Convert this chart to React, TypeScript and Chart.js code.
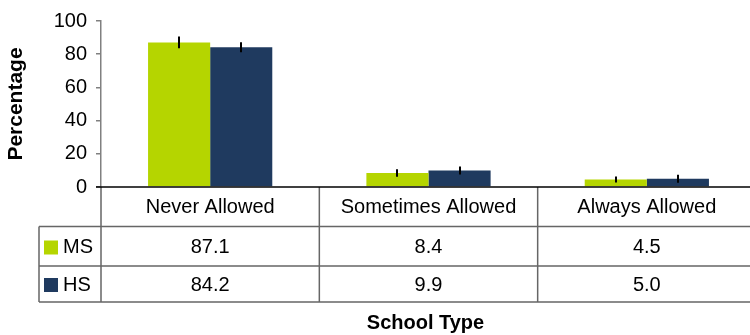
import React, { useEffect, useRef } from "react";
import { Chart, registerables } from "chart.js";

Chart.register(...registerables);

const categories = ["Never Allowed", "Sometimes Allowed", "Always Allowed"];
const seriesNames = ["MS", "HS"];
const msValues = [87.1, 8.4, 4.5];
const hsValues = [84.2, 9.9, 5.0];
const msErrors = [3.5, 2.3, 1.8];
const hsErrors = [3.0, 2.4, 2.4];
const tableMs = ["87.1", "8.4", "4.5"];
const tableHs = ["84.2", "9.9", "5.0"];
const colors = ["#b5d500", "#1f3a5f"];
const FONT = "'Liberation Sans', Arial, sans-serif";

export default function App() {
  const ref = useRef<HTMLCanvasElement | null>(null);

  useEffect(() => {
    const canvas = ref.current;
    if (!canvas) return;

    const errorPlugin = {
      id: "errorBars",
      afterDatasetsDraw(chart: any) {
        const ctx = chart.ctx;
        const y = chart.scales.y;
        const errs = [msErrors, hsErrors];
        chart.data.datasets.forEach((ds: any, di: number) => {
          const meta = chart.getDatasetMeta(di);
          meta.data.forEach((bar: any, i: number) => {
            const v = ds.data[i];
            const e = errs[di][i];
            ctx.save();
            ctx.strokeStyle = "#000";
            ctx.lineWidth = 2;
            ctx.beginPath();
            ctx.moveTo(Math.round(bar.x), y.getPixelForValue(v + e));
            ctx.lineTo(Math.round(bar.x), y.getPixelForValue(v - e));
            ctx.stroke();
            ctx.restore();
          });
        });
      },
    };

    const tablePlugin = {
      id: "dataTable",
      afterDraw(chart: any) {
        const ctx = chart.ctx;
        const area = chart.chartArea;
        const xs = chart.scales.x;
        const n = categories.length;
        const colW = (area.right - area.left) / n;
        const top = area.bottom;
        const r1 = top + 39.5;
        const r2 = top + 79;
        const r3 = top + 115;
        const tableLeft = 39;
        ctx.save();
        ctx.strokeStyle = "#666";
        ctx.lineWidth = 1.5;
        ctx.beginPath();
        [r1, r2, r3].forEach((yy) => {
          ctx.moveTo(tableLeft, yy);
          ctx.lineTo(area.right, yy);
        });
        ctx.moveTo(tableLeft, r1);
        ctx.lineTo(tableLeft, r3);
        for (let i = 0; i < n; i++) {
          const xx = area.left + colW * i;
          ctx.moveTo(xx, top);
          ctx.lineTo(xx, r3);
        }
        ctx.stroke();
        ctx.strokeStyle = "#000";
        ctx.lineWidth = 1.5;
        ctx.beginPath();
        ctx.moveTo(area.left - 5, top);
        ctx.lineTo(area.right, top);
        ctx.stroke();

        ctx.fillStyle = "#000";
        ctx.font = "20px " + FONT;
        ctx.textAlign = "center";
        ctx.textBaseline = "middle";
        for (let i = 0; i < n; i++) {
          const cx = xs.getPixelForValue(i);
          ctx.fillText(categories[i], cx, top + 20);
          ctx.fillText(tableMs[i], cx, r1 + 21);
          ctx.fillText(tableHs[i], cx, r2 + 19);
        }
        const rowsY = [r1 + 21, r2 + 19];
        seriesNames.forEach((s, si) => {
          ctx.fillStyle = colors[si];
          ctx.fillRect(44, rowsY[si] - 7, 14, 14);
          ctx.fillStyle = "#000";
          ctx.textAlign = "left";
          ctx.fillText(s, 63, rowsY[si]);
        });
        ctx.font = "bold 20px " + FONT;
        ctx.textAlign = "center";
        ctx.fillText("School Type", (area.left + 750) / 2, 323);
        ctx.restore();
      },
    };

    const chart = new Chart(canvas, {
      type: "bar",
      data: {
        labels: categories,
        datasets: [
          {
            label: seriesNames[0],
            data: msValues,
            backgroundColor: colors[0],
            categoryPercentage: 0.569,
            barPercentage: 1,
          },
          {
            label: seriesNames[1],
            data: hsValues,
            backgroundColor: colors[1],
            categoryPercentage: 0.569,
            barPercentage: 1,
          },
        ],
      },
      options: {
        responsive: false,
        animation: false,
        events: [],
        layout: {
          autoPadding: false,
          padding: { left: 0, right: 0, top: 20, bottom: 148 },
        },
        plugins: {
          legend: { display: false },
          tooltip: { enabled: false },
          title: { display: false },
        },
        scales: {
          x: {
            display: false,
          },
          y: {
            min: 0,
            max: 100,
            afterFit: (s: any) => {
              s.width = 101;
            },
            ticks: {
              stepSize: 20,
              color: "#000",
              padding: 9,
              font: { family: FONT, size: 20 },
            },
            grid: {
              drawOnChartArea: false,
              drawTicks: true,
              tickLength: 5,
              color: "#808080",
              lineWidth: 1.5,
            },
            border: { color: "#808080", width: 1.5 },
            title: {
              display: true,
              text: "Percentage",
              color: "#000",
              padding: { top: 4, bottom: 0 },
              font: { family: FONT, size: 21, weight: "bold" },
            },
          },
        },
      },
      plugins: [errorPlugin, tablePlugin],
    });

    return () => chart.destroy();
  }, []);

  return (
    <div style={{ position: "absolute", left: 0, top: 0, width: 750, height: 335, overflow: "hidden", background: "#fff" }}>
      <canvas ref={ref} width={756} height={335} style={{ display: "block" }} />
    </div>
  );
}
